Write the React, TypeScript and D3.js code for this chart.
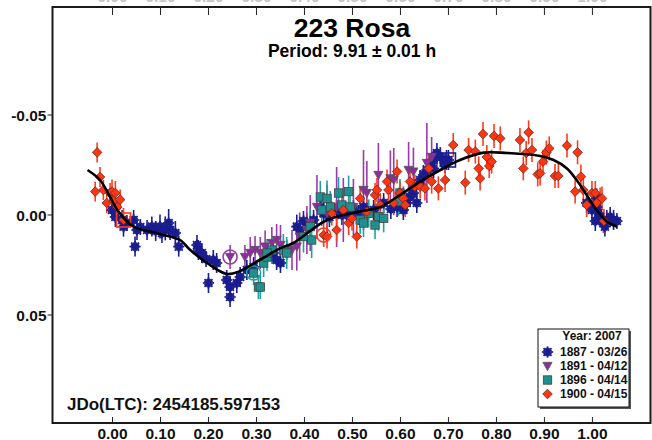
import React from "react";
import * as d3 from "d3";

// Phase-folded lightcurve of asteroid 223 Rosa, four sessions in 2007.
// Each point: [phase, reduced magnitude, error].
const session1887: [number, number, number][] = [
  [-0.001, -0.0025, 0.004], [0.006, 0.001, 0.005], [0.02, 0.0025, 0.005], [0.023, 0.0058, 0.005],
  [0.03, 0.004, 0.004], [0.044, 0.0025, 0.005], [0.051, 0.0075, 0.005], [0.058, 0.006, 0.004],
  [0.047, 0.0158, 0.005], [0.072, 0.0075, 0.005], [0.082, 0.0058, 0.005], [0.09, 0.008, 0.005],
  [0.099, 0.0058, 0.006], [0.103, 0.009, 0.005], [0.11, 0.0067, 0.006], [0.117, 0.004, 0.007],
  [0.12, 0.0075, 0.005], [0.131, 0.009, 0.006], [0.138, 0.0158, 0.005], [0.176, 0.015, 0.005],
  [0.179, 0.0175, 0.005], [0.186, 0.019, 0.005], [0.195, 0.022, 0.004], [0.2, 0.034, 0.005],
  [0.21, 0.0225, 0.005], [0.217, 0.024, 0.005], [0.238, 0.0325, 0.005], [0.245, 0.036, 0.005],
  [0.245, 0.041, 0.005], [0.259, 0.034, 0.005], [0.266, 0.031, 0.005], [0.28, 0.0275, 0.005],
  [0.294, 0.026, 0.005], [0.322, 0.021, 0.005], [0.335, 0.019, 0.005], [0.342, 0.0225, 0.005],
  [0.35, 0.024, 0.005], [0.363, 0.0175, 0.005], [0.384, 0.0058, 0.006], [0.39, 0.0075, 0.005],
  [0.398, 0.003, 0.005], [0.405, 0.004, 0.005], [0.419, 0.0025, 0.005], [0.433, -0.004, 0.005],
  [0.44, -0.0008, 0.005], [0.452, 0.001, 0.005], [0.467, -0.0025, 0.005], [0.478, 0.0, 0.005],
  [0.488, -0.001, 0.005], [0.502, -0.0025, 0.005], [0.512, 0.0, 0.005], [0.523, -0.004, 0.005],
  [0.544, -0.0025, 0.005], [0.565, -0.006, 0.005], [0.58, -0.003, 0.005], [0.593, -0.004, 0.005],
  [0.606, -0.0025, 0.005], [0.613, -0.006, 0.005], [0.62, -0.009, 0.005], [0.627, -0.011, 0.005],
  [0.634, -0.006, 0.005], [0.641, -0.0175, 0.005], [0.648, -0.02, 0.005], [0.655, -0.0225, 0.005],
  [0.662, -0.026, 0.005], [0.669, -0.0275, 0.005], [0.669, -0.0233, 0.005], [0.676, -0.031, 0.005],
  [0.683, -0.029, 0.005], [0.693, -0.026, 0.005], [0.696, -0.0275, 0.005], [0.7, -0.0275, 0.005],
  [0.988, -0.006, 0.005], [0.999, -0.0025, 0.005], [1.009, -0.004, 0.005], [1.009, -0.0083, 0.005],
  [1.012, -0.001, 0.005], [1.016, 0.001, 0.005], [1.006, 0.003, 0.005], [1.023, 0.004, 0.005],
  [1.026, 0.0058, 0.005], [1.03, 0.0025, 0.005], [1.037, 0.001, 0.005], [1.044, 0.0025, 0.005],
  [1.051, 0.003, 0.004],
];

const session1891: [number, number, number][] = [
  [0.245, 0.021, 0.006], [0.276, 0.021, 0.006], [0.287, 0.019, 0.008], [0.297, 0.0175, 0.007],
  [0.308, 0.019, 0.008], [0.318, 0.0158, 0.008], [0.332, 0.014, 0.008], [0.342, 0.0125, 0.008],
  [0.35, 0.015, 0.01], [0.374, 0.0175, 0.01], [0.384, 0.0158, 0.012], [0.39, 0.0108, 0.012],
  [0.405, 0.0075, 0.012], [0.412, 0.004, 0.014], [0.426, -0.004, 0.016], [0.447, -0.001, 0.014],
  [0.467, -0.004, 0.02], [0.481, -0.0025, 0.016], [0.502, -0.004, 0.014], [0.523, -0.0125, 0.02],
  [0.53, -0.011, 0.016], [0.554, -0.02, 0.016], [0.579, -0.0183, 0.014], [0.586, -0.0175, 0.016],
  [0.617, -0.0225, 0.014], [0.627, -0.0217, 0.012], [0.655, -0.026, 0.02], [0.665, -0.029, 0.01],
];

const session1896: [number, number, number][] = [
  [0.294, 0.029, 0.006], [0.304, 0.036, 0.006], [0.308, 0.036, 0.006], [0.315, 0.024, 0.007],
  [0.322, 0.021, 0.007], [0.332, 0.0175, 0.007], [0.322, 0.019, 0.007], [0.356, 0.0175, 0.008],
  [0.363, 0.019, 0.008], [0.398, 0.0108, 0.008], [0.412, 0.0058, 0.009], [0.415, 0.0125, 0.009],
  [0.433, -0.009, 0.008], [0.436, -0.0025, 0.008], [0.447, -0.0083, 0.009], [0.454, -0.004, 0.008],
  [0.471, -0.011, 0.008], [0.478, -0.005, 0.008], [0.492, -0.0117, 0.008], [0.495, -0.004, 0.008],
  [0.516, 0.0025, 0.007], [0.523, 0.004, 0.007], [0.534, -0.0008, 0.007], [0.547, 0.005, 0.007],
  [0.554, 0.0008, 0.007], [0.565, 0.0017, 0.007], [0.596, -0.0067, 0.007], [0.599, -0.011, 0.007],
];

const session1900: [number, number, number][] = [
  [-0.032, -0.0313, 0.005], [-0.026, -0.019, 0.005], [-0.036, -0.0117, 0.005], [-0.019, -0.0125, 0.005],
  [-0.012, -0.006, 0.005], [-0.005, -0.011, 0.005], [-0.001, -0.0117, 0.006], [0.006, -0.011, 0.006],
  [0.002, -0.007, 0.005], [0.016, -0.0077, 0.005], [0.01, -0.004, 0.005], [0.023, 0.0025, 0.006],
  [0.44, 0.01, 0.006], [0.447, 0.0108, 0.006], [0.457, -0.0008, 0.006], [0.467, 0.0075, 0.006],
  [0.481, -0.0025, 0.006], [0.492, 0.004, 0.006], [0.499, 0.0017, 0.006], [0.509, 0.0108, 0.006],
  [0.516, -0.0083, 0.006], [0.53, -0.0017, 0.006], [0.547, -0.01, 0.006], [0.551, -0.0125, 0.006],
  [0.558, -0.005, 0.006], [0.572, -0.0167, 0.006], [0.575, -0.0125, 0.006], [0.586, -0.006, 0.006],
  [0.593, -0.0217, 0.006], [0.599, -0.011, 0.006], [0.606, -0.0083, 0.006], [0.61, -0.005, 0.006],
  [0.62, -0.0167, 0.006], [0.63, -0.0142, 0.006], [0.641, -0.0142, 0.006], [0.651, -0.0133, 0.006],
  [0.659, -0.0233, 0.006], [0.665, -0.0167, 0.006], [0.679, -0.0133, 0.006], [0.693, -0.0175, 0.006],
  [0.71, -0.035, 0.006], [0.742, -0.0325, 0.006], [0.756, -0.0317, 0.006], [0.735, -0.0162, 0.006],
  [0.763, -0.0233, 0.006], [0.766, -0.0183, 0.006], [0.772, -0.0405, 0.006], [0.78, -0.029, 0.006],
  [0.785, -0.0245, 0.006], [0.79, -0.0267, 0.006], [0.795, -0.0395, 0.006], [0.808, -0.0383, 0.006],
  [0.849, -0.0375, 0.006], [0.856, -0.0233, 0.006], [0.862, -0.031, 0.006], [0.867, -0.0413, 0.006],
  [0.874, -0.0325, 0.006], [0.886, -0.0203, 0.006], [0.891, -0.0208, 0.006], [0.897, -0.0267, 0.006],
  [0.904, -0.0312, 0.006], [0.91, -0.0333, 0.006], [0.922, -0.0195, 0.006], [0.929, -0.0195, 0.006],
  [0.947, -0.0347, 0.006], [0.969, -0.0313, 0.006], [0.976, -0.0192, 0.006], [0.964, -0.0117, 0.006],
  [0.981, -0.0125, 0.006], [0.988, -0.005, 0.006], [0.999, -0.011, 0.006], [1.006, -0.011, 0.006],
  [1.016, -0.0077, 0.006], [1.02, -0.0083, 0.006], [1.009, -0.006, 0.006], [1.024, 0.003, 0.006],
];

// First point of each session, outlined
const sessionStarts = [
  { session: "1887", index: 71, shape: "square" },
  { session: "1891", index: 0, shape: "circle" },
  { session: "1896", index: 0, shape: "circle" },
  { session: "1900", index: 11, shape: "square" },
  { session: "1900", index: 12, shape: "circle" },
];

// Fourier fit of the folded curve
const fitPhase = [-0.052, -0.026, -0.005, 0.0125, 0.044, 0.092, 0.12, 0.141, 0.162, 0.197, 0.238, 0.266, 0.31,
  0.349, 0.377, 0.447, 0.516, 0.558, 0.599, 0.641, 0.683, 0.724, 0.773, 0.822, 0.891, 0.919, 0.947, 0.967,
  0.988, 1.009, 1.03, 1.051];
const fitMag = [-0.0225, -0.0175, -0.009, -0.0017, 0.0058, 0.009, 0.0108, 0.0125, 0.0175, 0.024, 0.0295, 0.028,
  0.022, 0.0167, 0.014, 0.0025, -0.0017, -0.004, -0.01, -0.0167, -0.0225, -0.0275, -0.0312, -0.031, -0.0295,
  -0.0275, -0.0233, -0.0175, -0.01, -0.0025, 0.0033, 0.0058];

const xTicks = [0, 0.1, 0.2, 0.3, 0.4, 0.5, 0.6, 0.7, 0.8, 0.9, 1.0];
const yTicks = [-0.05, 0, 0.05];
const legendTitle = "Year: 2007";
const legendLabels = ["1887 - 03/26", "1891 - 04/12", "1896 - 04/14", "1900 - 04/15"];

const FONT = "'Liberation Sans', Arial, Helvetica, sans-serif";

type Kind = "star" | "triangle" | "square" | "diamond";
const sessions: { key: string; data: [number, number, number][]; kind: Kind; color: string; bar: string }[] = [
  { key: "1887", data: session1887, kind: "star", color: "#1a1d8f", bar: "#1a1d8f" },
  { key: "1891", data: session1891, kind: "triangle", color: "#8e2c9f", bar: "#9a3aac" },
  { key: "1896", data: session1896, kind: "square", color: "#1f9090", bar: "#22a0a0" },
  { key: "1900", data: session1900, kind: "diamond", color: "#ff3410", bar: "#ff3a1c" },
];

function Marker({ kind, cx, cy, color }: { kind: Kind; cx: number; cy: number; color: string }) {
  if (kind === "star") {
    const r = 5.6;
    const angles = [0, 45, 90, 135, 22.5, 67.5, 112.5, 157.5];
    return (
      <g stroke={color} strokeWidth={1.7}>
        {angles.map((a, i) => {
          const rr = i < 4 ? r : r * 0.8;
          const dx = rr * Math.cos((a * Math.PI) / 180);
          const dy = rr * Math.sin((a * Math.PI) / 180);
          return <line key={i} x1={cx - dx} y1={cy - dy} x2={cx + dx} y2={cy + dy} />;
        })}
      </g>
    );
  }
  if (kind === "triangle") {
    const s = 4.6;
    return (
      <path
        d={`M${cx - s},${cy - s * 0.8}L${cx + s},${cy - s * 0.8}L${cx},${cy + s}Z`}
        fill={color}
        stroke="#555"
        strokeWidth={0.8}
      />
    );
  }
  if (kind === "square") {
    const s = 4.2;
    return <rect x={cx - s} y={cy - s} width={2 * s} height={2 * s} fill={color} stroke="#444" strokeWidth={0.8} />;
  }
  const s = 4.8;
  return (
    <path
      d={`M${cx},${cy - s}L${cx + s},${cy}L${cx},${cy + s}L${cx - s},${cy}Z`}
      fill={color}
      stroke="#6a2a20"
      strokeWidth={0.8}
    />
  );
}

export default function App() {
  const left = 52.5, right = 650.5, top = 7, bottom = 423;
  const x = d3.scaleLinear().domain([-0.125, 1.121]).range([left, right]);
  const y = d3.scaleLinear().domain([-0.104, 0.104]).range([top, bottom]);

  const fitLine = d3
    .line<number>()
    .x((_, i) => x(fitPhase[i]))
    .y((d) => y(d))
    .curve(d3.curveCatmullRom.alpha(0.5));

  const byKey: Record<string, (typeof sessions)[number]> = {};
  sessions.forEach((s) => (byKey[s.key] = s));

  const legX = 538, legY = 329, legW = 91, legH = 78;
  const legRows = [352, 366, 380, 394];

  return (
    <svg
      width={652}
      height={440}
      style={{ position: "absolute", left: 0, top: 0, background: "#fff" }}
      fontFamily={FONT}
    >
      <rect x={0} y={0} width={652} height={440} fill="#fff" />

      {/* mirrored tick labels above the frame, mostly clipped */}
      {xTicks.map((t) => (
        <text key={"tt" + t} x={x(t)} y={2} textAnchor="middle" fontSize={15.5} fontWeight="bold" fill="#c4c4c4">
          {t.toFixed(2)}
        </text>
      ))}

      {/* error bars */}
      {sessions.map((s) =>
        s.data.map((d, i) => (
          <line
            key={s.key + "e" + i}
            x1={x(d[0])}
            x2={x(d[0])}
            y1={y(d[1] - d[2])}
            y2={y(d[1] + d[2])}
            stroke={s.bar}
            strokeWidth={1.6}
          />
        ))
      )}

      {/* markers */}
      {sessions.map((s) =>
        s.data.map((d, i) => <Marker key={s.key + "m" + i} kind={s.kind} cx={x(d[0])} cy={y(d[1])} color={s.color} />)
      )}

      {/* session start outlines */}
      {sessionStarts.map((m, i) => {
        const s = byKey[m.session];
        const d = s.data[m.index];
        const cx = x(d[0]), cy = y(d[1]);
        return m.shape === "circle" ? (
          <circle key={"ss" + i} cx={cx} cy={cy} r={7} fill="none" stroke={s.bar} strokeWidth={1.6} />
        ) : (
          <rect key={"ss" + i} x={cx - 7} y={cy - 7} width={14} height={14} fill="none" stroke={s.bar} strokeWidth={1.6} />
        );
      })}

      {/* fitted curve */}
      <path d={fitLine(fitMag) ?? ""} fill="none" stroke="#000" strokeWidth={2.6} strokeLinejoin="round" />

      {/* frame */}
      <rect x={left} y={top} width={right - left} height={bottom - top} fill="none" stroke="#1a1a1a" strokeWidth={2} />

      {/* x ticks, bottom and top */}
      {xTicks.map((t) => (
        <g key={"xt" + t}>
          <line x1={x(t)} x2={x(t)} y1={bottom} y2={bottom - 6} stroke="#222" strokeWidth={1} />
          <line x1={x(t)} x2={x(t)} y1={top} y2={top + 8} stroke="#222" strokeWidth={1} />
          <text x={x(t)} y={439} textAnchor="middle" fontSize={15.5} fontWeight="bold" fill="#111">
            {t.toFixed(2)}
          </text>
        </g>
      ))}

      {/* y ticks */}
      {yTicks.map((t) => (
        <g key={"yt" + t}>
          <line x1={left - 5} x2={left} y1={y(t)} y2={y(t)} stroke="#222" strokeWidth={1} />
          <text x={left - 6} y={y(t) + 5.5} textAnchor="end" fontSize={15.5} fontWeight="bold" fill="#111">
            {t === 0 ? "0.00" : t.toFixed(2)}
          </text>
        </g>
      ))}

      {/* titles */}
      <text x={352} y={37} textAnchor="middle" fontSize={26.5} fontWeight="bold" fill="#000">
        223 Rosa
      </text>
      <text x={352} y={57} textAnchor="middle" fontSize={17.5} fontWeight="bold" fill="#000">
        Period: 9.91 ± 0.01 h
      </text>
      <text x={67} y={409.5} fontSize={17} fontWeight="bold" fill="#111">
        JDo(LTC): 2454185.597153
      </text>

      {/* legend */}
      <rect x={legX + 2} y={legY + 2} width={legW} height={legH} fill="#555" />
      <rect x={legX} y={legY} width={legW} height={legH} fill="#fff" stroke="#111" strokeWidth={1} />
      <text x={592} y={340} textAnchor="middle" fontSize={12} fontWeight="bold" fill="#111">
        {legendTitle}
      </text>
      {sessions.map((s, i) => (
        <g key={"lg" + s.key}>
          <Marker kind={s.kind} cx={547.5} cy={legRows[i]} color={s.color} />
          <text x={560} y={legRows[i] + 4.3} fontSize={12} fontWeight="bold" fill="#111">
            {legendLabels[i]}
          </text>
        </g>
      ))}
    </svg>
  );
}
